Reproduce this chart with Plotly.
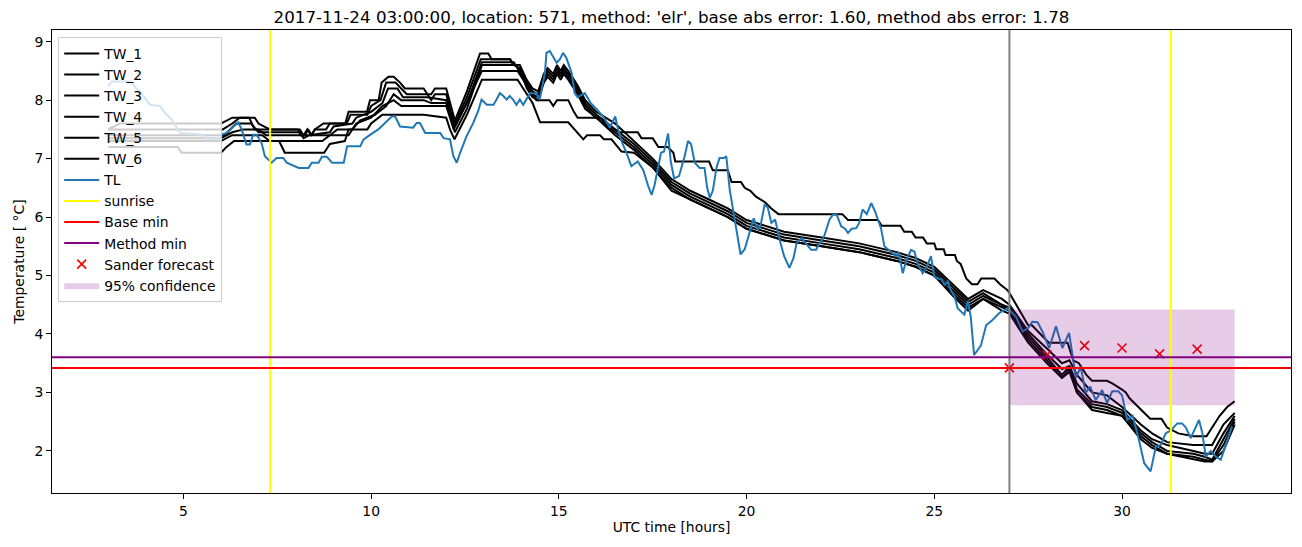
import plotly.graph_objects as go

# ---------------- data ----------------
tw1_t = [3.0,3.3,6.0,6.3,6.9,7.0,7.3,8.05,8.12,8.24,8.32,8.42,8.5,8.73,9.31,9.4,9.89,9.97,10.2,10.28,10.46,10.6,10.77,10.9,11.4,11.5,11.6,11.7,12.0,12.1,12.23,12.55,12.9,13.12,13.21,13.7,13.79,13.96,14.14,14.3,14.45,14.6,14.7,14.85,14.95,15.05,15.13,15.25,15.5,15.7,16.0,16.5,17.0,17.5,18.0,18.5,19.0,19.5,20.0,20.5,21.0,22.0,23.0,24.0,24.5,25.0,25.5,25.9,26.3,26.8,27.0,27.5,28.0,28.4,28.6,28.8,29.2,29.6,30.0,30.5,30.8,31.2,31.9,32.2,32.4,32.7,33.0]
tw1_v = [7.5,7.6,7.6,7.7,7.7,7.6,7.5,7.5,7.4,7.4,7.5,7.4,7.5,7.6,7.6,7.8,7.8,8.0,8.0,8.3,8.4,8.4,8.3,8.2,8.2,8.1,8.1,8.2,8.2,7.95,7.65,8.15,8.8,8.8,8.7,8.7,8.6,8.6,8.35,8.2,8.15,8.45,8.55,8.45,8.6,8.5,8.6,8.5,8.25,8.0,7.8,7.6,7.3,7.0,6.65,6.45,6.3,6.15,5.95,5.85,5.75,5.65,5.55,5.4,5.3,5.15,4.85,4.6,4.75,4.6,4.5,4.05,3.75,3.5,3.55,3.3,3.0,2.95,2.75,2.45,2.3,2.15,2.1,2.1,2.1,2.45,2.65]

tw2_t = [3.0,6.05,6.3,6.5,6.75,6.9,8.1,8.2,8.3,8.4,8.5,8.8,8.9,9.35,9.45,9.9,10.0,10.25,10.4,10.65,10.8,10.95,11.5,11.6,11.7,12.0,12.12,12.23,12.55,12.92,13.7,13.8,13.95,14.15,14.3,14.45,14.6,14.7,14.85,14.95,15.05,15.13,15.25,15.5,15.7,16.0,16.5,17.0,17.5,18.0,18.5,19.0,19.5,20.0,20.5,21.0,22.0,23.0,24.0,24.5,25.0,25.5,25.9,26.3,26.8,27.0,27.5,28.0,28.4,28.6,28.8,29.2,29.6,30.0,30.5,30.8,31.2,31.9,32.2,32.4,32.7,33.0]
tw2_v = [7.5,7.5,7.6,7.7,7.7,7.5,7.5,7.4,7.5,7.4,7.5,7.5,7.6,7.6,7.75,7.75,7.9,8.0,8.3,8.3,8.2,8.1,8.1,8.0,8.1,8.1,7.8,7.6,8.05,8.7,8.7,8.6,8.55,8.3,8.15,8.1,8.4,8.5,8.4,8.55,8.45,8.55,8.45,8.2,7.95,7.75,7.5,7.25,6.95,6.6,6.4,6.25,6.1,5.9,5.8,5.7,5.6,5.5,5.35,5.25,5.1,4.8,4.55,4.7,4.5,4.45,4.0,3.65,3.4,3.45,3.15,2.85,2.8,2.7,2.35,2.2,2.1,2.0,1.95,1.95,2.3,2.6]

tw3_t = [3.0,6.1,6.4,6.8,7.0,8.1,8.2,8.35,8.9,9.0,9.5,9.6,10.0,10.3,10.45,10.7,10.85,11.5,12.0,12.12,12.23,12.55,12.95,13.8,13.95,14.15,14.3,14.45,14.6,14.7,14.85,14.95,15.05,15.13,15.25,15.5,15.7,16.0,16.5,17.0,17.5,18.0,18.5,19.0,19.5,20.0,20.5,21.0,22.0,23.0,24.0,24.5,25.0,25.5,25.9,26.3,26.8,27.0,27.5,28.0,28.4,28.6,28.8,29.2,29.6,30.0,30.5,30.8,31.2,31.9,32.2,32.4,32.7,33.0]
tw3_v = [7.4,7.4,7.6,7.6,7.45,7.45,7.35,7.4,7.45,7.55,7.6,7.7,7.8,7.95,8.2,8.2,8.05,8.05,8.0,7.75,7.55,7.95,8.65,8.65,8.5,8.25,8.1,8.05,8.35,8.45,8.35,8.5,8.4,8.5,8.4,8.15,7.9,7.7,7.45,7.2,6.9,6.55,6.35,6.2,6.05,5.85,5.75,5.65,5.55,5.45,5.3,5.2,5.05,4.75,4.5,4.65,4.5,4.4,3.95,3.6,3.3,3.45,3.05,2.8,2.75,2.65,2.3,2.15,2.0,1.95,1.9,1.85,2.2,2.55]

tw4_t = [3.0,6.0,6.3,6.6,7.0,7.2,8.9,9.1,9.5,9.7,10.1,10.4,10.6,10.8,11.4,11.6,12.0,12.12,12.23,12.55,12.95,13.85,14.0,14.15,14.3,14.45,14.6,14.7,14.85,14.95,15.05,15.13,15.25,15.5,15.7,16.0,16.5,17.0,17.5,18.0,18.5,19.0,19.5,20.0,20.5,21.0,22.0,23.0,24.0,24.5,25.0,25.5,25.9,26.3,26.8,27.0,27.5,28.0,28.4,28.6,28.8,29.2,29.6,30.0,30.5,30.8,31.2,31.9,32.2,32.4,32.7,33.0]
tw4_v = [7.35,7.35,7.45,7.5,7.5,7.4,7.4,7.5,7.5,7.65,7.75,7.9,8.1,8.0,8.0,7.95,7.95,7.7,7.45,7.85,8.6,8.6,8.45,8.2,8.05,8.0,8.3,8.4,8.3,8.45,8.35,8.45,8.35,8.1,7.85,7.7,7.4,7.15,6.85,6.5,6.3,6.15,6.0,5.8,5.7,5.6,5.5,5.4,5.25,5.15,5.0,4.7,4.45,4.6,4.45,4.4,3.9,3.55,3.25,3.4,3.0,2.75,2.7,2.6,2.25,2.1,1.95,1.9,1.85,1.82,2.1,2.5]

tw5_t = [3.0,6.0,6.3,7.1,7.3,8.7,8.9,9.4,9.6,10.0,10.3,10.6,10.8,11.2,12.0,12.1,12.2,12.5,12.95,13.9,14.1,14.4,14.75,14.85,14.95,15.25,15.4,15.5,16.1,16.25,16.6,17.1,17.2,17.5,17.65,17.9,18.05,18.1,19.0,19.1,19.5,19.6,19.85,19.95,20.1,20.25,20.5,20.65,20.85,22.55,22.7,23.5,23.6,24.1,24.2,24.4,24.5,24.7,24.8,25.0,25.05,25.25,25.3,25.55,25.6,25.7,25.85,26.0,26.15,26.25,26.6,26.75,26.95,27.0,27.5,27.6,28.05,28.55,28.7,28.85,29.05,29.2,29.6,29.75,30.0,30.1,30.2,30.5,30.75,31.05,31.2,31.5,31.9,32.25,32.4,32.6,32.8,33.0]
tw5_v = [7.3,7.3,7.4,7.4,7.3,7.3,7.4,7.4,7.6,7.7,7.9,8.0,7.9,7.9,7.9,7.7,7.5,7.9,8.5,8.5,8.3,8.0,8.0,7.9,8.0,8.0,7.8,7.7,7.7,7.6,7.45,7.45,7.35,7.35,7.2,7.2,7.1,6.95,6.95,6.8,6.8,6.6,6.6,6.5,6.45,6.35,6.25,6.15,6.05,6.05,5.95,5.95,5.85,5.85,5.75,5.75,5.65,5.65,5.55,5.55,5.45,5.45,5.35,5.35,5.25,5.2,4.95,4.85,4.85,4.95,4.95,4.85,4.75,4.7,4.15,4.15,3.85,3.85,3.55,3.5,3.3,3.2,3.2,3.15,3.05,3.0,2.9,2.7,2.55,2.55,2.4,2.3,2.25,2.25,2.4,2.6,2.75,2.85]

tw6_t = [3.0,4.85,4.95,6.0,6.15,6.35,7.55,7.7,8.75,8.9,9.3,9.4,9.9,10.0,10.3,11.4,12.0,12.1,12.22,12.55,12.95,13.9,14.05,14.3,14.5,15.25,15.65,15.75,16.1,16.2,16.4,16.67,17.0,17.5,18.0,18.5,19.0,19.5,20.0,20.5,21.0,22.0,23.0,24.0,24.5,25.0,25.5,25.9,26.3,26.8,27.0,27.5,28.0,28.4,28.6,28.8,29.2,29.6,30.0,30.5,30.8,31.2,31.9,32.2,32.4,32.7,33.0]
tw6_v = [7.2,7.2,7.1,7.1,7.2,7.3,7.3,7.1,7.1,7.25,7.3,7.5,7.5,7.6,7.75,7.75,7.7,7.5,7.33,7.75,8.35,8.35,8.2,7.95,7.62,7.62,7.33,7.4,7.4,7.33,7.33,7.12,7.1,6.85,6.45,6.3,6.15,6.0,5.8,5.7,5.6,5.5,5.4,5.25,5.15,5.0,4.65,4.4,4.6,4.4,4.35,3.85,3.5,3.25,3.35,3.0,2.7,2.65,2.6,2.2,2.05,1.95,1.85,1.82,1.82,2.0,2.45]

tl_t = [3.0,3.09,3.58,3.94,4.11,4.38,4.51,4.69,4.91,5.53,5.62,5.98,6.02,6.15,6.33,6.46,6.55,6.68,6.77,6.86,6.95,7.08,7.17,7.35,7.48,7.66,7.75,8.07,8.33,8.42,8.6,8.69,8.82,8.96,9.27,9.36,9.71,9.8,9.98,10.19,10.37,10.55,10.64,10.77,11.12,11.21,11.3,11.44,11.84,11.93,12.1,12.19,12.28,12.37,12.54,12.72,12.85,12.94,13.08,13.26,13.34,13.43,13.52,13.61,13.69,13.78,13.87,13.96,14.05,14.14,14.23,14.4,14.49,14.63,14.67,14.76,14.94,15.03,15.11,15.2,15.34,15.42,15.5,15.69,15.85,16.0,16.2,16.36,16.5,16.58,16.67,16.8,16.93,17.1,17.25,17.38,17.47,17.55,17.65,17.72,17.8,17.91,17.98,18.07,18.2,18.35,18.44,18.52,18.62,18.75,18.88,18.95,19.02,19.1,19.2,19.28,19.4,19.46,19.55,19.68,19.77,19.84,19.95,20.08,20.19,20.3,20.37,20.48,20.56,20.66,20.76,20.88,21.0,21.14,21.25,21.33,21.46,21.58,21.72,21.85,21.95,22.05,22.21,22.3,22.4,22.52,22.62,22.7,22.8,22.92,23.0,23.09,23.2,23.32,23.42,23.5,23.58,23.67,23.78,23.89,23.98,24.05,24.16,24.25,24.38,24.47,24.55,24.69,24.8,24.91,25.0,25.1,25.2,25.27,25.36,25.45,25.54,25.62,25.71,25.8,25.89,25.97,26.06,26.24,26.38,26.55,26.73,26.95,27.17,27.35,27.5,27.61,27.75,27.88,28.06,28.24,28.41,28.59,28.77,28.9,29.03,29.15,29.3,29.47,29.6,29.74,29.9,30.0,30.14,30.28,30.45,30.59,30.76,30.9,31.03,31.16,31.3,31.47,31.6,31.7,31.83,31.95,32.05,32.14,32.23,32.36,32.5,32.63,32.76,32.93]
tl_v = [8.24,8.32,8.32,8.07,7.92,7.9,7.78,7.67,7.44,7.41,7.33,7.33,7.41,7.44,7.55,7.62,7.5,7.24,7.24,7.41,7.41,7.27,7.04,6.93,7.01,7.01,6.93,6.84,6.84,6.93,6.93,7.03,7.03,6.93,6.93,7.21,7.21,7.33,7.41,7.5,7.61,7.72,7.72,7.55,7.53,7.61,7.61,7.44,7.44,7.35,7.33,7.04,6.93,7.1,7.38,7.61,7.81,8.01,7.92,7.92,8.01,8.12,8.07,8.01,8.07,8.01,7.92,8.01,7.92,8.01,8.12,8.12,8.01,8.47,8.81,8.84,8.64,8.7,8.81,8.72,8.47,8.12,8.05,8.12,7.95,7.85,7.7,7.53,7.72,7.5,7.3,7.1,6.87,6.95,6.8,6.53,6.38,6.55,6.9,7.1,7.12,7.43,6.95,6.66,6.7,7.04,7.3,7.25,6.93,6.84,6.84,6.5,6.33,6.45,6.85,7.01,7.01,7.04,6.47,6.0,5.67,5.36,5.45,5.73,5.98,5.78,5.85,6.21,6.17,5.9,5.96,5.61,5.33,5.13,5.3,5.55,5.64,5.55,5.44,5.44,5.56,5.64,5.96,6.04,6.04,5.84,5.8,5.73,5.8,5.81,5.9,6.13,6.05,6.24,6.1,5.95,5.81,5.5,5.44,5.38,5.33,5.4,5.04,5.25,5.44,5.41,5.21,5.04,5.15,5.33,4.98,4.95,4.93,4.84,4.9,4.73,4.64,4.44,4.38,4.33,4.56,4.3,3.64,3.8,4.15,4.24,4.36,4.44,4.3,4.04,4.1,4.21,4.2,4.04,3.76,4.13,3.76,4.02,3.25,3.44,2.99,3.1,2.87,3.04,2.82,3.02,3.02,2.95,2.53,2.6,2.19,1.79,1.65,2.07,2.1,2.3,2.35,2.47,2.47,2.4,2.22,2.4,2.53,2.3,1.9,2.0,1.9,1.85,2.1,2.42]

sunrise_t = [7.31, 31.30]
forecast_t0 = 27.0
base_min = 3.42
method_min = 3.60
sander_t = [27, 28, 29, 30, 31, 32]
sander_v = [3.42, 3.64, 3.80, 3.76, 3.66, 3.74]
conf_t = [27.0, 33.0]
conf_lo = 2.78
conf_hi = 4.42

title = ("2017-11-24 03:00:00, location: 571, method: 'elr', "
         "base abs error: 1.60, method abs error: 1.78")

# ---------------- figure ----------------
FONT = "DejaVu Sans"
FS = 13.9
fig = go.Figure()

tw = [(tw1_t, tw1_v), (tw2_t, tw2_v), (tw3_t, tw3_v),
      (tw4_t, tw4_v), (tw5_t, tw5_v), (tw6_t, tw6_v)]
for i, (t, v) in enumerate(tw, start=1):
    fig.add_trace(go.Scatter(x=t, y=v, mode="lines", name=f"TW_{i}",
                             line=dict(color="black", width=2)))

fig.add_trace(go.Scatter(x=tl_t, y=tl_v, mode="lines", name="TL",
                         line=dict(color="#1f77b4", width=2)))

# legend-only entries for the reference lines (drawn as shapes)
fig.add_trace(go.Scatter(x=[None], y=[None], mode="lines", name="sunrise",
                         line=dict(color="yellow", width=2)))
fig.add_trace(go.Scatter(x=[None], y=[None], mode="lines", name="Base min",
                         line=dict(color="red", width=2)))
fig.add_trace(go.Scatter(x=[None], y=[None], mode="lines", name="Method min",
                         line=dict(color="purple", width=2)))

fig.add_trace(go.Scatter(x=sander_t, y=sander_v, mode="markers",
                         name="Sander forecast",
                         marker=dict(symbol="x-thin", size=9, color="red",
                                     line=dict(color="red", width=1.6))))

fig.add_trace(go.Scatter(
    x=[conf_t[0], conf_t[1], conf_t[1], conf_t[0], conf_t[0]],
    y=[conf_lo, conf_lo, conf_hi, conf_hi, conf_lo],
    mode="lines", fill="toself", name="95% confidence",
    fillcolor="rgba(128,0,128,0.2)", line=dict(width=0, color="rgba(0,0,0,0)")))

shapes = []
for s in sunrise_t:
    shapes.append(dict(type="line", xref="x", yref="paper", x0=s, x1=s, y0=0, y1=1,
                       line=dict(color="yellow", width=2), layer="above"))
shapes.append(dict(type="line", xref="x", yref="paper", x0=forecast_t0, x1=forecast_t0,
                   y0=0, y1=1, line=dict(color="gray", width=2), layer="above"))
shapes.append(dict(type="line", xref="paper", yref="y", x0=0, x1=1, y0=base_min, y1=base_min,
                   line=dict(color="red", width=2), layer="above"))
shapes.append(dict(type="line", xref="paper", yref="y", x0=0, x1=1, y0=method_min, y1=method_min,
                   line=dict(color="purple", width=2), layer="above"))

axis_common = dict(showline=True, linecolor="black", linewidth=1, mirror=True,
                   ticks="outside", ticklen=5, tickwidth=1, tickcolor="black",
                   showgrid=False, zeroline=False,
                   tickfont=dict(family=FONT, size=FS, color="black"))

fig.update_layout(
    width=1302, height=547,
    margin=dict(l=52, r=11, t=30, b=54),
    paper_bgcolor="white", plot_bgcolor="white",
    font=dict(family=FONT, size=FS, color="black"),
    title=dict(text=title, xref="paper", x=0.5, xanchor="center", y=0.968, yanchor="middle",
               font=dict(family=FONT, size=16.7, color="black")),
    xaxis=dict(range=[1.5, 34.5], tickvals=[5, 10, 15, 20, 25, 30],
               title=dict(text="UTC time [hours]", font=dict(family=FONT, size=FS), standoff=4),
               **axis_common),
    yaxis=dict(range=[1.28, 9.2], tickvals=[2, 3, 4, 5, 6, 7, 8, 9],
               title=dict(text="Temperature [ °C]", font=dict(family=FONT, size=FS), standoff=6),
               **axis_common),
    legend=dict(x=0.005, y=0.985, xanchor="left", yanchor="top",
                bgcolor="rgba(255,255,255,0.8)", bordercolor="#cccccc", borderwidth=1,
                font=dict(family=FONT, size=FS, color="black"), itemwidth=35),
    shapes=shapes,
    showlegend=True,
)

fig.write_html("out.html")
